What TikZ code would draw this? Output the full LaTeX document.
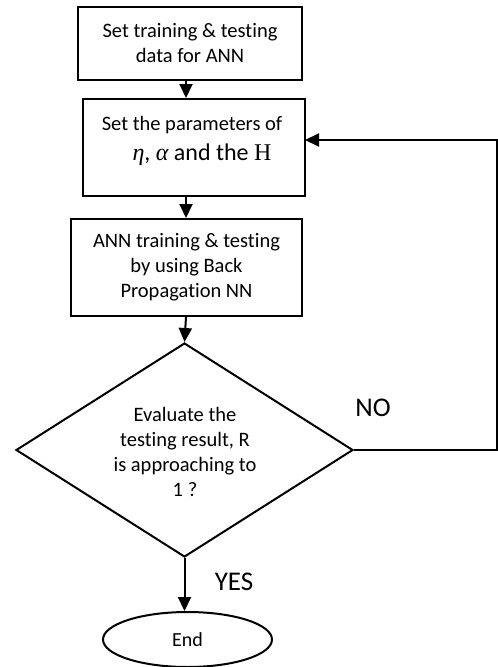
\documentclass[tikz,border=0pt]{standalone}
\usepackage{fontspec}
\setmainfont[RawFeature={-liga}]{Carlito}
\newfontfamily\greekserif{Liberation Serif}
\usetikzlibrary{arrows.meta,shapes.geometric}

\tikzset{
  flow/.style={line width=2pt, draw=black},
  procbox/.style={flow, rectangle, inner sep=0pt, align=center,
    font=\fontsize{20.5}{25}\selectfont},
  decision/.style={flow, diamond, inner sep=0pt},
  terminal/.style={flow, ellipse, inner sep=0pt,
    font=\fontsize{20}{24}\selectfont},
  bodytext/.style={align=center, inner sep=0pt,
    font=\fontsize{20.5}{25}\selectfont},
  branch/.style={inner sep=0pt, font=\fontsize{27}{30}\selectfont},
  link/.style={flow, -{Triangle[length=14pt,width=13pt]}},
}

\begin{document}
\begin{tikzpicture}[x=1pt, y=-1pt]
  \useasboundingbox (0,0) rectangle (498,667);

  % process steps
  \node[procbox, minimum width=224pt, minimum height=73pt] (data) at (190,43.5)
    {Set training \& testing\\data for ANN};
  \node[procbox, minimum width=222pt, minimum height=97pt] (param) at (194,147.5) {};
  \node[bodytext] (paramtop) at (192,125) {Set the parameters of};
  \node[bodytext, font=\fontsize{24}{28}\selectfont] (paramsym) at (202,155)
    {{\greekserif\itshape η}, {\greekserif\itshape α} and the {\greekserif H}};
  \node[procbox, minimum width=231pt, minimum height=97pt] (train) at (186.5,267.5)
    {ANN training \& testing\\by using Back\\Propagation NN};

  % decision
  \node[decision, minimum width=337pt, minimum height=214pt] (eval) at (184.5,450) {};
  \node[bodytext] (evaltext) at (185,452)
    {Evaluate the\\testing result, R\\is approaching to\\1 ?};

  % end
  \node[terminal, minimum width=169pt, minimum height=55pt] (stop) at (187.5,639.5) {End};

  % main axis of the downward connectors
  \coordinate (axis) at (186,0);
  \coordinate (loop) at (497,0);

  \draw[link] (data.south -| axis) -- (param.north -| axis);
  \draw[link] (param.south -| axis) -- (train.north -| axis);
  \draw[link] (train.south -| axis) -- (eval.north);
  \draw[link] (eval.south) -- (stop.north -| eval.south);

  % feedback loop
  \coordinate (back) at (305,140);
  \draw[link] (eval.east) -- (eval.east -| loop) -- (back -| loop) -- (back);

  % branch labels
  \node[branch] (no) at (373,408) {NO};
  \node[branch] (yes) at (234,582) {YES};
\end{tikzpicture}
\end{document}
